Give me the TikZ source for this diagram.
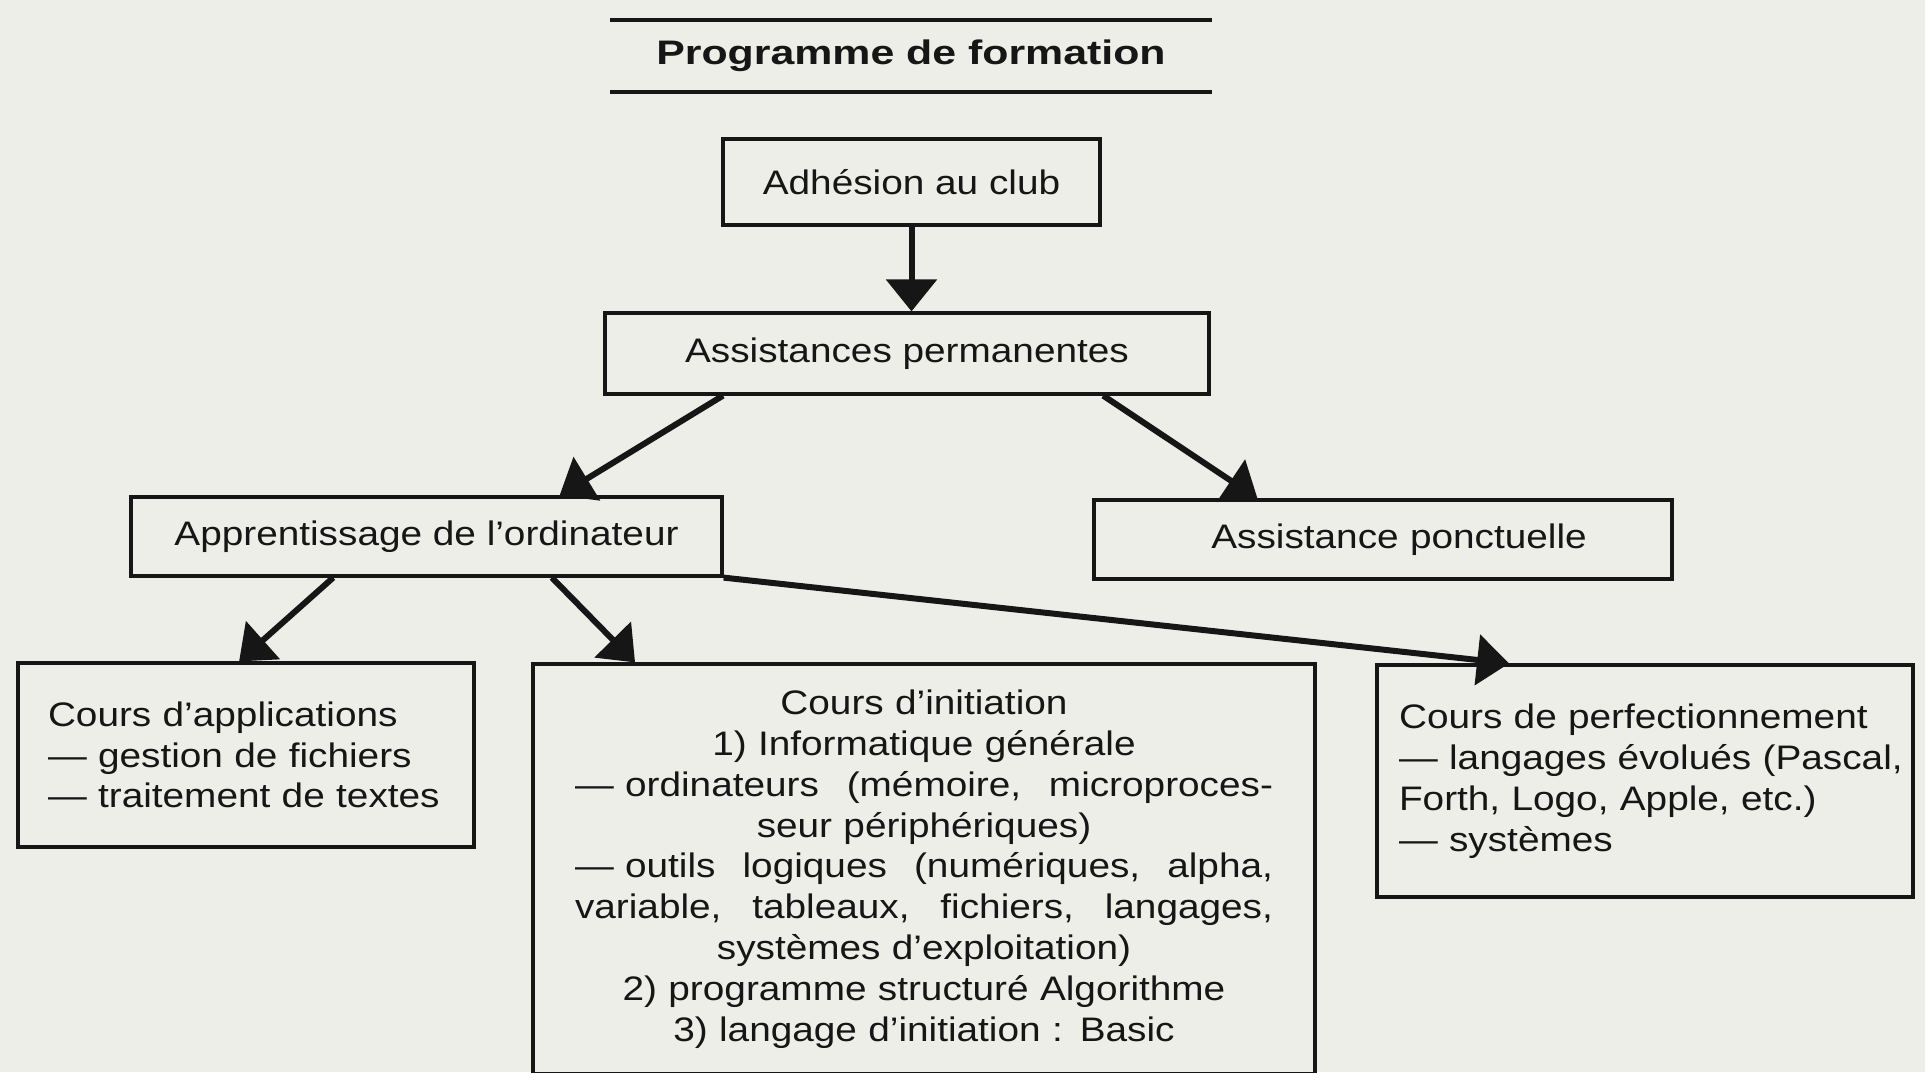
\documentclass[tikz,border=0pt]{standalone}
\usepackage{fontspec}
\setmainfont{Liberation Sans}[FakeStretch=1.14]
\newfontfamily\titlefont{Liberation Sans}[FakeStretch=1.26]
\usetikzlibrary{arrows.meta,calc}
\definecolor{paper}{RGB}{237,238,232}
\definecolor{ink}{RGB}{22,22,22}
\newcommand{\justline}[1]{\makebox[349pt][l]{#1}}
\hfuzz=20pt
\begin{document}
\begin{tikzpicture}[x=0.5pt,y=-0.5pt,
  box/.style={draw=ink, line width=1.6pt, inner sep=0pt, text=ink,
    font=\fontsize{17pt}{20.4pt}\selectfont, align=center},
  arr/.style={draw=ink, line width=3pt, -{Triangle[length=16pt,width=25pt]}},
  rulestyle/.style={draw=ink, line width=2pt}]
\useasboundingbox (0,0) rectangle (1925,1072);
\clip (0,0) rectangle (1925,1072);
\fill[paper] (0,0) rectangle (1925,1072);

% title
\node[inner sep=0pt, minimum width=301pt, minimum height=36pt, text=ink,
  font=\titlefont\bfseries\fontsize{17pt}{20pt}\selectfont] (title) at (911,56) {Programme de formation};
\draw[rulestyle] (title.north west) -- (title.north east);
\draw[rulestyle] (title.south west) -- (title.south east);

% boxes
\node[box, minimum width=188.5pt, minimum height=43pt] (adh) at (911.5,182) {Adhésion au club};
\node[box, minimum width=302pt, minimum height=40.5pt] (ap) at (907,353.5) {Assistances permanentes};
\node[box, minimum width=295.5pt, minimum height=39.5pt] (app) at (426.5,536.5) {Apprentissage de l'ordinateur};
\node[box, minimum width=289pt, minimum height=39.5pt, text width=289pt] (pon) at (1383,539.5) {\hspace*{16pt}Assistance ponctuelle};

\node[box, text width=198pt, align=left, minimum width=228pt, minimum height=92pt] (capp) at (246,755)
  {Cours d'applications\\
   — gestion de fichiers\\
   — traitement de textes};

\node[box, text width=349pt, minimum width=391pt, minimum height=205pt] (init) at (924,869)
  {Cours d'initiation\\
   1) Informatique générale\\
   \justline{— ordinateurs\hfill(mémoire,\hfill microproces-}\\
   seur périphériques)\\
   \justline{— outils\hfill logiques\hfill (numériques,\hfill alpha,}\\
   \justline{variable,\hfill tableaux,\hfill fichiers,\hfill langages,}\\
   systèmes d'exploitation)\\
   2) programme structuré Algorithme\\
   3) langage d'initiation : Basic};

\node[box, text width=246pt, align=left, minimum width=268pt, minimum height=116pt] (perf) at (1645,781)
  {\mbox{Cours de perfectionnement}\\
   \mbox{— langages évolués (Pascal,}\\
   \mbox{Forth, Logo, Apple, etc.)}\\
   \mbox{— systèmes}};

% connectors
\draw[arr] (adh.south) -- (adh.south |- ap.north);
\draw[arr] ($(ap.south west)!0.197!(ap.south east)$) -- ($(app.north west)!0.724!(app.north east)$);
\draw[arr] ($(ap.south west)!0.823!(ap.south east)$) -- ($(pon.north west)!0.284!(pon.north east)$);
\draw[arr] ($(app.south west)!0.343!(app.south east)$) -- ($(capp.north west)!0.485!(capp.north east)$);
\draw[arr] ($(app.south west)!0.711!(app.south east)$) -- ($(init.north west)!0.132!(init.north east)$);
\draw[arr] (app.south east) -- ($(perf.north west)!0.248!(perf.north east)$);
\end{tikzpicture}
\end{document}
